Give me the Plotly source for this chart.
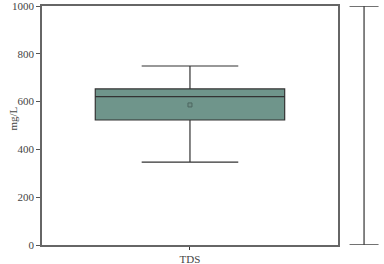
import plotly.graph_objects as go

category = ["TDS"]
q1 = [523]
median = [621]
q3 = [653]
lower_whisker = [347]
upper_whisker = [749]
mean = [586]
range_center = [500]
range_half = [500]
y_title = "mg/L"

fig = go.Figure()
fig.add_trace(go.Box(
    x=category, q1=q1, median=median, q3=q3,
    lowerfence=lower_whisker, upperfence=upper_whisker,
    fillcolor="#6f958b", line=dict(color="#333333", width=1.2),
    whiskerwidth=0.51, width=0.64, boxpoints=False, showlegend=False,
    hoverinfo="y",
))
fig.add_trace(go.Scatter(
    x=category, y=mean, mode="markers", showlegend=False,
    marker=dict(symbol="square", size=4, color="#6f8f86",
                line=dict(color="#4d6660", width=1)),
))
fig.add_trace(go.Scatter(
    x=[0], y=range_center, mode="markers", showlegend=False,
    xaxis="x2", marker=dict(size=1, color="rgba(0,0,0,0)"),
    error_y=dict(type="data", array=range_half, symmetric=True,
                 color="#444444", thickness=1.3, width=14.5),
))

font = dict(family="Liberation Serif, Times New Roman, serif", size=11, color="#444444")
fig.update_layout(
    width=384, height=264,
    margin=dict(l=42, r=3, t=6, b=19),
    paper_bgcolor="white", plot_bgcolor="white",
    font=font,
    xaxis=dict(domain=[0, 0.873], showline=True, linecolor="#666666", linewidth=1.5,
               mirror=True, ticks="outside", ticklen=3, tickcolor="#333333",
               showgrid=False, range=[-0.5, 0.5], tickfont=font, automargin=False,
               ticklabeloverflow="allow"),
    xaxis2=dict(domain=[0.9, 1.0], visible=False, range=[-1, 1], anchor="y",
                automargin=False),
    yaxis=dict(range=[0, 1000], tickvals=[0, 200, 400, 600, 800, 1000],
               showline=True, linecolor="#666666", linewidth=1.5, mirror=True,
               ticks="outside", ticklen=4, tickcolor="#555555", showgrid=False,
               zeroline=False, tickfont=font, automargin=False,
               ticklabeloverflow="allow"),
    annotations=[dict(text=y_title, xref="paper", yref="paper", x=0, y=0.5,
                      xshift=-30, yshift=7, textangle=-90, showarrow=False, font=font,
                      xanchor="center", yanchor="middle")],
)
fig.write_html("out.html", config={"displayModeBar": False},
               post_script="document.body.style.margin='0';document.body.style.overflow='hidden';")
